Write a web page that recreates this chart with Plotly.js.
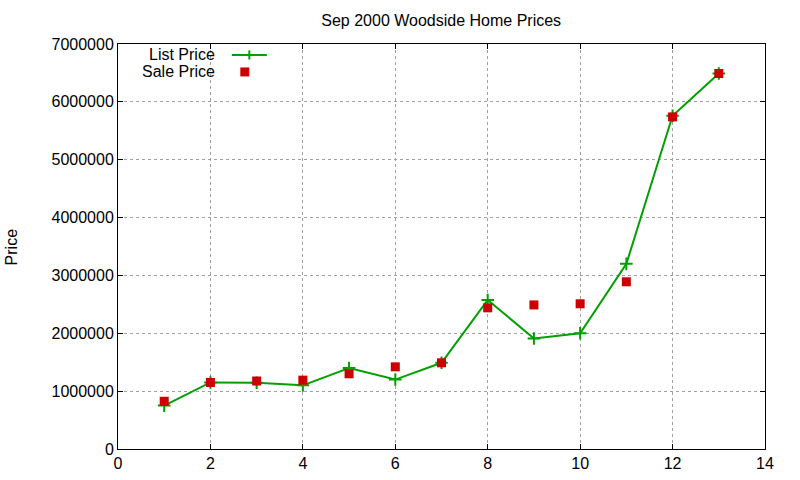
<!DOCTYPE html>
<html>
<head>
<meta charset="utf-8">
<script src="https://cdn.plot.ly/plotly-3.0.1.min.js"></script>
<style>
  html, body { margin: 0; padding: 0; background: #fff; }
  #chart { width: 800px; height: 480px; }
</style>
</head>
<body>
<div id="chart"></div>
<script>
'use strict';

// house index, list and sale prices
const houses = [1, 2, 3, 4, 5, 6, 7, 8, 9, 10, 11, 12, 13];
const listPrice = [750000, 1150000, 1145000, 1100000, 1400000, 1200000, 1490000,
                   2575000, 1910000, 2000000, 3200000, 5760000, 6490000];
const salePrice = [825000, 1150000, 1175000, 1190000, 1300000, 1420000, 1490000,
                   2440000, 2490000, 2510000, 2890000, 5740000, 6490000];

const xTicks = [0, 2, 4, 6, 8, 10, 12, 14];
const yTicks = [0, 1000000, 2000000, 3000000, 4000000, 5000000, 6000000, 7000000];

const GREEN = '#00a000';
const RED = '#cc0000';
const FONT = 'Liberation Sans, Arial, sans-serif';

let traces = [
    {
        x: houses, y: listPrice, name: 'List Price',
        type: 'scatter', mode: 'lines+markers',
        line: {color: GREEN, width: 2},
        marker: {symbol: 'cross-thin-open', size: 9, line: {color: GREEN, width: 2}}
    },
    {
        x: houses, y: salePrice, name: 'Sale Price',
        type: 'scatter', mode: 'markers',
        marker: {symbol: 'square', size: 9, color: RED, line: {width: 0}}
    }
];

// gnuplot-style key: text on the left, sample on the right
const keyX = 0.203, keyY1 = 0.973, keyY2 = 0.931;

let axisCommon = {
    showline: true, mirror: 'ticks', linecolor: '#000', linewidth: 1,
    ticks: 'inside', ticklen: 5, tickcolor: '#000', tickwidth: 1,
    showgrid: true, gridcolor: '#a0a0a0', griddash: 'dot', gridwidth: 1,
    zeroline: false, tickmode: 'array',
    tickfont: {family: FONT, size: 16, color: '#000'}
};

let layout = {
    width: 800, height: 480,
    margin: {l: 118, r: 35, t: 44, b: 31},
    paper_bgcolor: '#fff', plot_bgcolor: '#fff',
    showlegend: false,
    font: {family: FONT, size: 16, color: '#000'},
    title: {
        text: 'Sep 2000 Woodside Home Prices',
        font: {family: FONT, size: 16, color: '#000'},
        x: 0.5515, xanchor: 'center', y: 0.958, yanchor: 'middle'
    },
    xaxis: Object.assign({}, axisCommon, {
        range: [0, 14], tickvals: xTicks, ticktext: xTicks.map(String)
    }),
    yaxis: Object.assign({}, axisCommon, {
        range: [0, 7000000], tickvals: yTicks, ticktext: yTicks.map(String)
    }),
    annotations: [
        {text: 'Price', xref: 'paper', yref: 'paper', x: -0.164, y: 0.5,
         textangle: -90, showarrow: false, xanchor: 'center', yanchor: 'middle',
         font: {family: FONT, size: 16, color: '#000'}},
        {text: 'List Price', xref: 'paper', yref: 'paper', x: 0.153, y: keyY1,
         xanchor: 'right', yanchor: 'middle', showarrow: false,
         font: {family: FONT, size: 16, color: '#000'}},
        {text: 'Sale Price', xref: 'paper', yref: 'paper', x: 0.153, y: keyY2,
         xanchor: 'right', yanchor: 'middle', showarrow: false,
         font: {family: FONT, size: 16, color: '#000'}}
    ],
    shapes: [
        {type: 'line', xref: 'paper', yref: 'paper', x0: 0.176, x1: 0.230, y0: keyY1, y1: keyY1,
         line: {color: GREEN, width: 2}},
        {type: 'line', xref: 'paper', yref: 'paper', xsizemode: 'pixel', ysizemode: 'pixel',
         xanchor: keyX, yanchor: keyY1, x0: -4.5, x1: 4.5, y0: 0, y1: 0, line: {color: GREEN, width: 2}},
        {type: 'line', xref: 'paper', yref: 'paper', xsizemode: 'pixel', ysizemode: 'pixel',
         xanchor: keyX, yanchor: keyY1, x0: 0, x1: 0, y0: -4.5, y1: 4.5, line: {color: GREEN, width: 2}},
        {type: 'rect', xref: 'paper', yref: 'paper', xsizemode: 'pixel', ysizemode: 'pixel',
         xanchor: 0.196, yanchor: keyY2, x0: -4.5, x1: 4.5, y0: -4.5, y1: 4.5,
         fillcolor: RED, line: {width: 0}}
    ]
};

Plotly.newPlot('chart', traces, layout, {staticPlot: true, displayModeBar: false});
</script>
</body>
</html>
